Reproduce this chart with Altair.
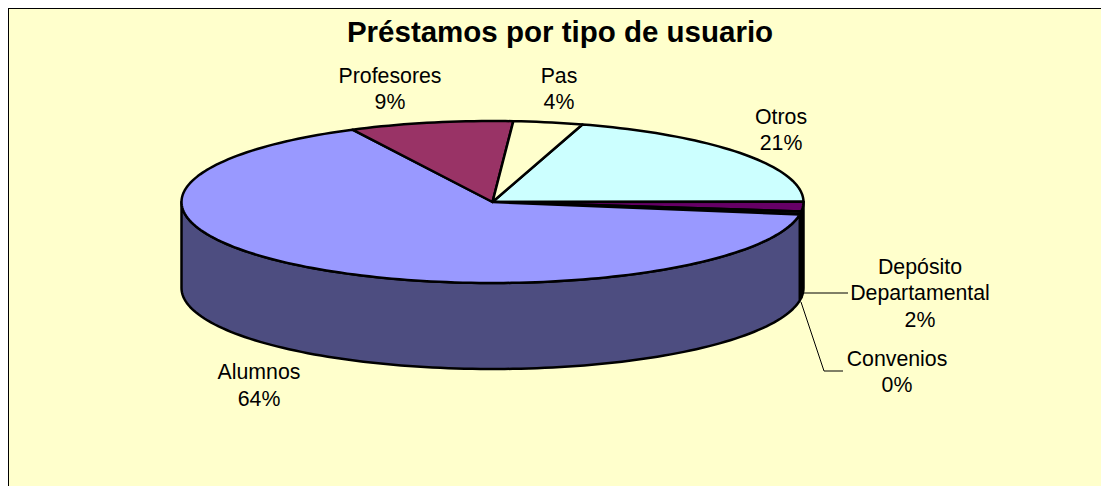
import math
import altair as alt
import pandas as pd

# Values
categories = ["Otros", "Depósito Departamental", "Convenios", "Alumnos", "Profesores", "Pas"]
shares = [20.3, 1.9, 0.6, 65.1, 8.5, 3.6]          # true slice sizes (percent)
percent_labels = ["21%", "2%", "0%", "64%", "9%", "4%"]
label_lines = [["Otros"], ["Depósito", "Departamental"], ["Convenios"], ["Alumnos"], ["Profesores"], ["Pas"]]
top_colors = ["#CCFFFF", "#660066", "#111111", "#9999FF", "#993366", "#FFFFCC"]
side_colors = ["#668080", "#330033", "#000000", "#4D4D80", "#4D1A33", "#808066"]

# Layout, in reference pixels
CX, CY, RX, RY, DEPTH = 492.5, 202, 311, 81, 86
W, H = 1093, 478
START = 73.2      # ellipse angle where the first slice begins; slices go clockwise
label_x = [781, 920, 897, 259, 390, 559]
label_y = [117.5, 267.5, 359.5, 373, 76.5, 76.5]
title_text = "Préstamos por tipo de usuario"

x_scale = alt.Scale(domain=[8, 8 + W], range=[0, W], nice=False, zero=False)
y_scale = alt.Scale(domain=[8, 8 + H], range=[0, H], nice=False, zero=False)
X = alt.X("x:Q", scale=x_scale, axis=None)
Y = alt.Y("y:Q", scale=y_scale, axis=None)


def rim(t, dy=0):
    r = math.radians(t)
    return CX + RX * math.cos(r), CY - RY * math.sin(r) + dy


def arc(a0, a1, dy=0):
    n = max(2, int(abs(a1 - a0) / 1.5) + 2)
    return [rim(a0 + (a1 - a0) * i / (n - 1), dy) for i in range(n)]


def polygon(points, color, sw=2.5):
    df = pd.DataFrame(points, columns=["x", "y"])
    df["i"] = range(len(df))
    return alt.Chart(df).mark_line(
        interpolate="linear-closed", fill=color, stroke="#000000",
        strokeWidth=sw, strokeJoin="round", clip=False,
    ).encode(x=X, y=Y, order="i:Q")


walls, tops = [], []
a = START
for share, top, side in zip(shares, top_colors, side_colors):
    b = a - share * 3.6
    tops.append(polygon([(CX, CY)] + arc(a, b), top))
    # visible outer wall: only the part of the slice on the front half of the ellipse
    lo, hi = max(b, -180), min(a, 0)
    if hi > lo:
        walls.append(polygon(arc(hi, lo) + arc(lo, hi, DEPTH), side))
    a = b

texts = ["\n".join(lines + [pct]) for lines, pct in zip(label_lines, percent_labels)]
labels_df = pd.DataFrame({"x": label_x, "y": label_y, "t": texts})
labels = alt.Chart(labels_df).mark_text(
    font="Liberation Sans", fontSize=21.3, color="#000000", align="center",
    baseline="middle", lineBreak="\n", lineHeight=26.5,
).encode(x=X, y=Y, text="t:N")

title = alt.Chart(pd.DataFrame({"x": [560], "y": [33], "t": [title_text]})).mark_text(
    font="Liberation Sans", fontSize=29.5, fontWeight="bold", color="#000000",
    align="center", baseline="middle",
).encode(x=X, y=Y, text="t:N")

# Leader lines run from the slice wall to the label
dep_leader = pd.DataFrame({"x": [803, 848], "y": [293, 293], "i": [0, 1]})
con_leader = pd.DataFrame({"x": [801, 824, 843], "y": [302, 371, 371], "i": [0, 1, 2]})
leaders = [
    alt.Chart(d).mark_line(stroke="#000000", strokeWidth=1).encode(x=X, y=Y, order="i:Q")
    for d in (dep_leader, con_leader)
]

# Chart frame: only the left and top edges fall inside the picture
frame = [
    alt.Chart(pd.DataFrame({"x": [8, 8], "y": [8, 8 + H], "i": [0, 1]})).mark_line(
        stroke="#000000", strokeWidth=2).encode(x=X, y=Y, order="i:Q"),
    alt.Chart(pd.DataFrame({"x": [8, 8 + W], "y": [8, 8], "i": [0, 1]})).mark_line(
        stroke="#000000", strokeWidth=2).encode(x=X, y=Y, order="i:Q"),
]

chart = alt.layer(*walls, *tops, *leaders, labels, title, *frame).properties(
    width=W, height=H, background="#FFFFCC", padding=0,
    autosize=alt.AutoSizeParams(type="none"),
).configure_view(stroke=None)

chart.save("out.html", embed_options={"renderer": "svg", "actions": False})
